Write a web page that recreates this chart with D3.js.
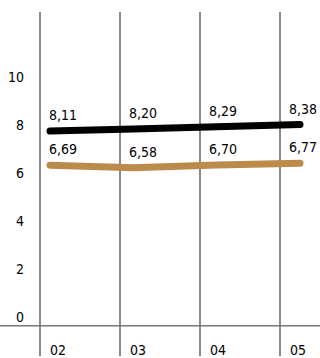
<!DOCTYPE html>
<html>
<head>
<meta charset="utf-8">
<script src="https://cdn.jsdelivr.net/npm/d3@7"></script>
<style>
  html, body { margin: 0; padding: 0; background: #fff; }
  svg text { font-family: "Liberation Sans Narrow", "DejaVu Sans Condensed", "Roboto Condensed", sans-serif; fill: #000; }
</style>
</head>
<body>
<svg id="chart" width="320" height="358"></svg>
<script>
// Years shown along the bottom
const categories = ["02", "03", "04", "05"];
// Upper (black) series and lower (tan) series
const seriesTop = [8.11, 8.20, 8.29, 8.38];
const seriesBottom = [6.69, 6.58, 6.70, 6.77];
const seriesTopLabels = ["8,11", "8,20", "8,29", "8,38"];
const seriesBottomLabels = ["6,69", "6,58", "6,70", "6,77"];
const yTicks = [0, 2, 4, 6, 8, 10];

const W = 320, H = 358;
const svg = d3.select("#chart");

const y = d3.scaleLinear().domain([0, 10]).range([325.7, 85.7]);
// Columns: each year owns an 80px band; separators sit at band centres
const band = d3.scaleBand().domain(categories).range([0, W]);
const x = d3.scalePoint().domain(categories).range([50, 300]);

// vertical separators
svg.append("g").selectAll("line")
  .data(categories).join("line")
  .attr("x1", d => band(d) + band.bandwidth() / 2)
  .attr("x2", d => band(d) + band.bandwidth() / 2)
  .attr("y1", 12).attr("y2", 356)
  .attr("stroke", "#2a2a2a").attr("stroke-width", 1.1);

// baseline
svg.append("line")
  .attr("x1", 0).attr("x2", W)
  .attr("y1", y(0)).attr("y2", y(0))
  .attr("stroke", "#777").attr("stroke-width", 1.6);

// y tick labels
svg.append("g").selectAll("text")
  .data(yTicks).join("text")
  .attr("x", 24).attr("y", d => y(d) - 4)
  .attr("text-anchor", "end")
  .attr("font-size", 14)
  .text(d => d);

// category labels
svg.append("g").selectAll("text")
  .data(categories).join("text")
  .attr("x", d => band(d) + band.bandwidth() / 2 + 10)
  .attr("y", 355)
  .attr("font-size", 14)
  .text(d => d);

const line = d3.line().x((d, i) => x(categories[i])).y(d => y(d));

function drawSeries(values, labels, color) {
  svg.append("path")
    .datum(values)
    .attr("d", line)
    .attr("fill", "none")
    .attr("stroke", color)
    .attr("stroke-width", 7)
    .attr("stroke-linecap", "round")
    .attr("stroke-linejoin", "round");
  svg.append("g").selectAll("text")
    .data(values).join("text")
    .attr("x", (d, i) => band(categories[i]) + band.bandwidth() / 2 + 9)
    .attr("y", d => y(d) - 11)
    .attr("font-size", 14)
    .text((d, i) => labels[i]);
}

drawSeries(seriesTop, seriesTopLabels, "#000");
drawSeries(seriesBottom, seriesBottomLabels, "#bb8b4b");
</script>
</body>
</html>
